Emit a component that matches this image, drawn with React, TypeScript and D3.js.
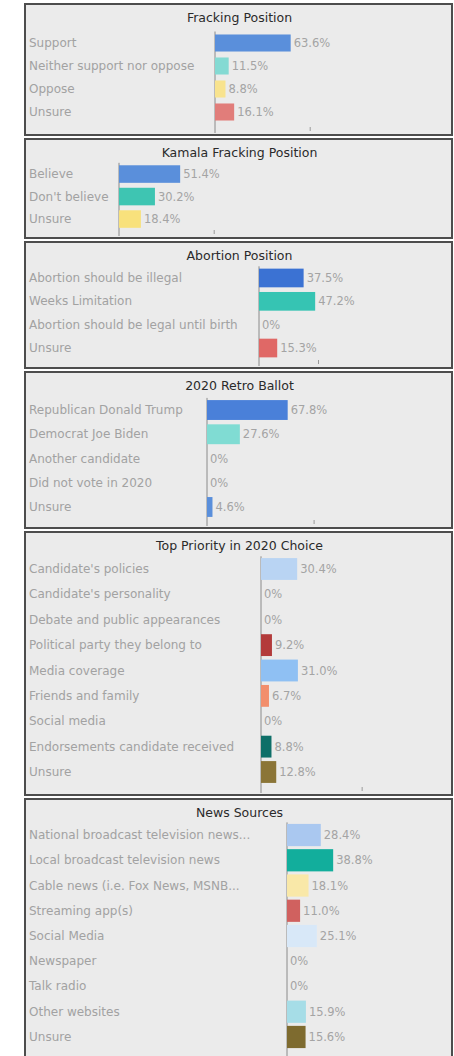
import React from 'react';
import * as d3 from 'd3';

// ---------- data ----------
const frackingTitle = 'Fracking Position';
const frackingCats = ['Support', 'Neither support nor oppose', 'Oppose', 'Unsure'];
const frackingVals = [63.6, 11.5, 8.8, 16.1];
const frackingColors = ['#5a8fdb', '#84dad3', '#f8e38e', '#e17d7a'];

const kamalaTitle = 'Kamala Fracking Position';
const kamalaCats = ['Believe', "Don't believe", 'Unsure'];
const kamalaVals = [51.4, 30.2, 18.4];
const kamalaColors = ['#5a8fdb', '#3ec5b2', '#f8e17c'];

const abortionTitle = 'Abortion Position';
const abortionCats = ['Abortion should be illegal', 'Weeks Limitation', 'Abortion should be legal until birth', 'Unsure'];
const abortionVals = [37.5, 47.2, 0, 15.3];
const abortionColors = ['#3b72d3', '#36c4b3', '#9ab8e8', '#e06866'];

const ballotTitle = '2020 Retro Ballot';
const ballotCats = ['Republican Donald Trump', 'Democrat Joe Biden', 'Another candidate', 'Did not vote in 2020', 'Unsure'];
const ballotVals = [67.8, 27.6, 0, 0, 4.6];
const ballotColors = ['#4a80d9', '#80dcd3', '#3ec5b2', '#f8e17c', '#5a8fdb'];

const priorityTitle = 'Top Priority in 2020 Choice';
const priorityCats = [
  "Candidate's policies",
  "Candidate's personality",
  'Debate and public appearances',
  'Political party they belong to',
  'Media coverage',
  'Friends and family',
  'Social media',
  'Endorsements candidate received',
  'Unsure',
];
const priorityVals = [30.4, 0, 0, 9.2, 31.0, 6.7, 0, 8.8, 12.8];
const priorityColors = ['#b9d4f3', '#9ab8e8', '#9ab8e8', '#b33b3b', '#8fc0f3', '#f28e6c', '#9ab8e8', '#0e6f68', '#8b7537'];

const newsTitle = 'News Sources';
const newsCats = [
  'National broadcast television news...',
  'Local broadcast television news',
  'Cable news (i.e. Fox News, MSNB...',
  'Streaming app(s)',
  'Social Media',
  'Newspaper',
  'Talk radio',
  'Other websites',
  'Unsure',
];
const newsVals = [28.4, 38.8, 18.1, 11.0, 25.1, 0, 0, 15.9, 15.6];
const newsColors = ['#aac8f0', '#12ae9c', '#f9e8a8', '#d0615f', '#d8e8f8', '#9ab8e8', '#9ab8e8', '#a6dde7', '#7e6b2f'];

const axisTicks = [80, 80, 50, 90, 85, 72];

// ---------- layout ----------
const W = 454;
const H = 1056;
const frameLeft = 25;
const frameRight = 452;
const labelX = 29;

const panels = [
  { title: frackingTitle, cats: frackingCats, vals: frackingVals, colors: frackingColors, top: 4, bottom: 135, axisX: 215, r0: 31.5, r1: 123.5, pad: 0.26 },
  { title: kamalaTitle, cats: kamalaCats, vals: kamalaVals, colors: kamalaColors, top: 139, bottom: 238, axisX: 119, r0: 162.8, r1: 230.3, pad: 0.22 },
  { title: abortionTitle, cats: abortionCats, vals: abortionVals, colors: abortionColors, top: 242, bottom: 368, axisX: 259, r0: 266.3, r1: 359.7, pad: 0.2 },
  { title: ballotTitle, cats: ballotCats, vals: ballotVals, colors: ballotColors, top: 372, bottom: 528, axisX: 207, r0: 397.9, r1: 519.1, pad: 0.18 },
  { title: priorityTitle, cats: priorityCats, vals: priorityVals, colors: priorityColors, top: 532, bottom: 795, axisX: 261, r0: 556.3, r1: 784.7, pad: 0.14 },
  { title: newsTitle, cats: newsCats, vals: newsVals, colors: newsColors, top: 799, bottom: 1064, axisX: 287, r0: 822.4, r1: 1049.6, pad: 0.12 },
];

const FONT = "'DejaVu Sans', sans-serif";

function Panel({ p, tick }: { p: typeof panels[number]; tick: number }) {
  const x = d3.scaleLinear().domain([0, 100]).range([p.axisX, p.axisX + 119]);
  const y = d3.scaleBand<string>().domain(p.cats).range([p.r0, p.r1]).paddingInner(p.pad).paddingOuter(p.pad / 2);
  const cx = (frameLeft + frameRight) / 2;
  return (
    <g>
      <rect x={frameLeft} y={p.top} width={frameRight - frameLeft} height={p.bottom - p.top} fill="#ebebeb" stroke="#4d4d4d" strokeWidth={2} />
      <text x={cx + 1} y={p.top + 18} textAnchor="middle" fontFamily={FONT} fontSize={12.5} fill="#2a2a2a">
        {p.title}
      </text>
      <line x1={x(0)} x2={x(0)} y1={p.r0} y2={p.bottom - 2} stroke="#8a8a8a" strokeWidth={1} />
      <line x1={x(tick)} x2={x(tick)} y1={p.bottom - 8} y2={p.bottom - 4} stroke="#9a9a9a" strokeWidth={1} />
      {p.cats.map((c, i) => {
        const yy = y(c)!;
        const bw = y.bandwidth();
        const v = p.vals[i];
        return (
          <g key={c}>
            <text x={labelX} y={yy + bw / 2} dominantBaseline="central" fontFamily={FONT} fontSize={12} fill="#a2a2a2">
              {c}
            </text>
            {v > 0 && <rect x={x(0)} y={yy} width={x(v) - x(0)} height={bw} fill={p.colors[i]} />}
            <text x={x(v) + 3} y={yy + bw / 2} dominantBaseline="central" fontFamily={FONT} fontSize={11.5} fill="#a4a4a4">
              {v === 0 ? '0%' : `${v.toFixed(1)}%`}
            </text>
          </g>
        );
      })}
    </g>
  );
}

export default function App() {
  return (
    <svg width={W} height={H} style={{ position: 'absolute', left: 0, top: 0, background: '#ffffff' }}>
      <rect x={0} y={0} width={W} height={H} fill="#ffffff" />
      {panels.map((p, i) => (
        <Panel key={p.title} p={p} tick={axisTicks[i]} />
      ))}
    </svg>
  );
}
